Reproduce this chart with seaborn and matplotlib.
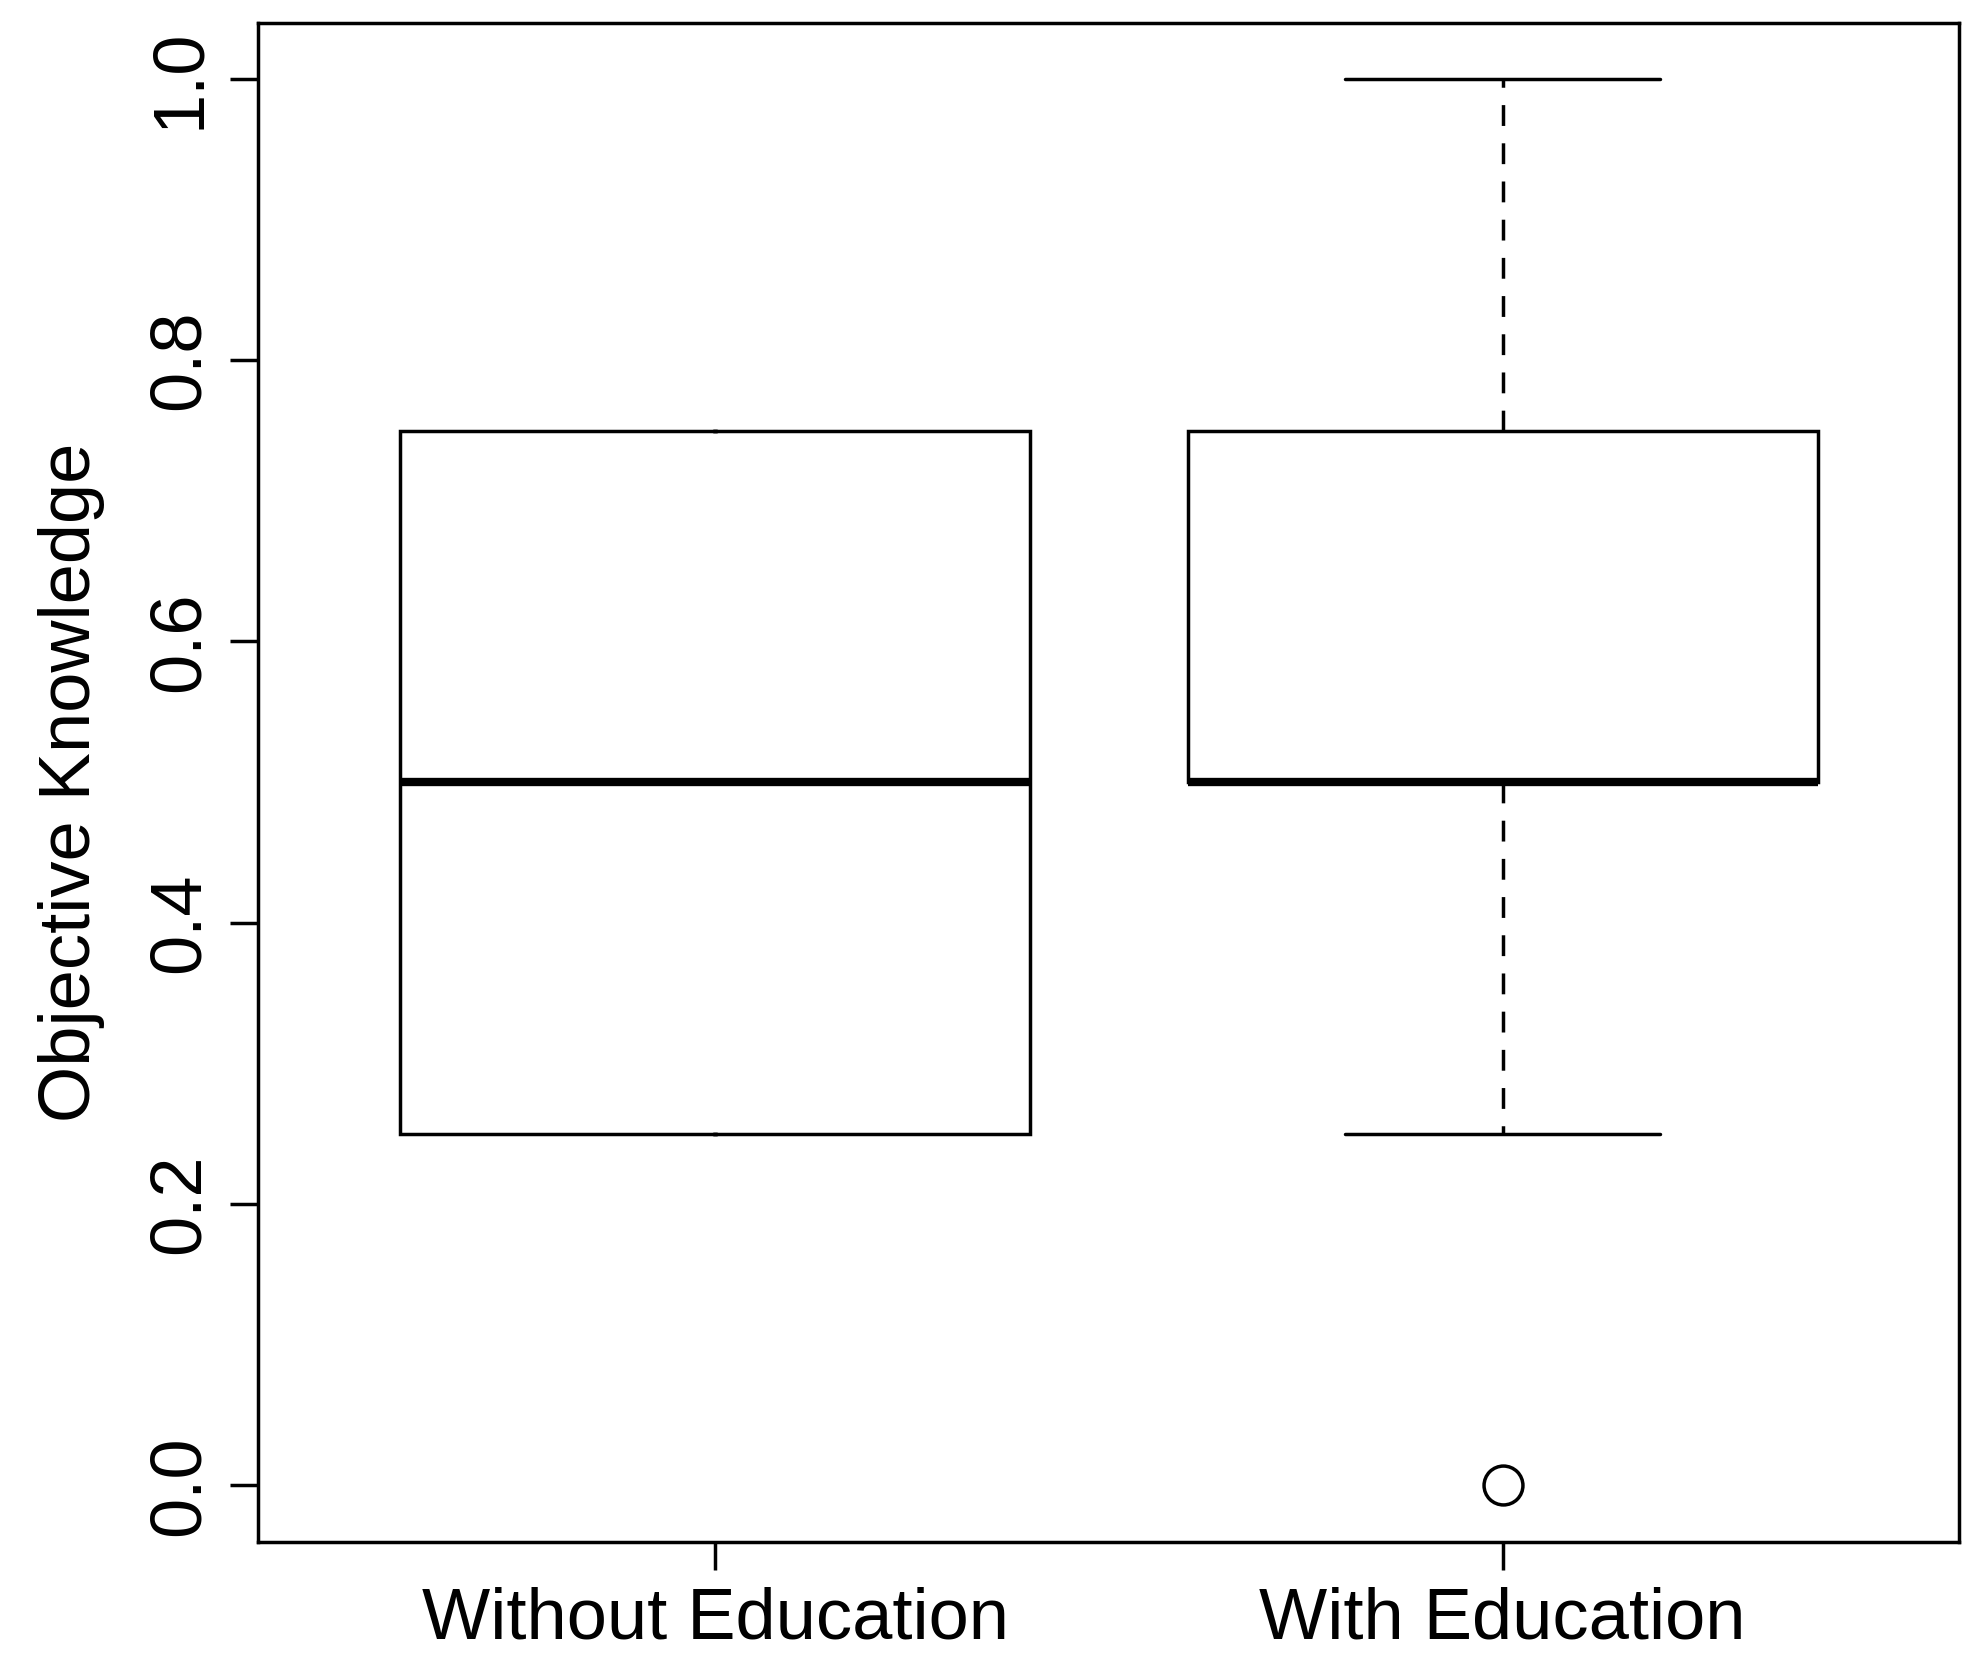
import matplotlib
matplotlib.use("Agg")
import matplotlib.pyplot as plt
import seaborn as sns
import pandas as pd

groups = ["Without Education", "With Education"]
without_vals = [0.25, 0.25, 0.25, 0.5, 0.75, 0.75, 0.75]
with_vals = [0.0, 0.25, 0.5, 0.5, 0.5, 0.5, 0.75, 0.75, 0.75, 1.0]
yticks = [0.0, 0.2, 0.4, 0.6, 0.8, 1.0]

df = pd.DataFrame({
    "group": [groups[0]] * len(without_vals) + [groups[1]] * len(with_vals),
    "value": without_vals + with_vals,
})

sns.set_style("white")
plt.rcParams["font.family"] = ["Liberation Sans", "DejaVu Sans"]
plt.rcParams["text.color"] = "black"
plt.rcParams["axes.labelcolor"] = "black"
plt.rcParams["xtick.color"] = "black"
plt.rcParams["ytick.color"] = "black"

fig = plt.figure(figsize=(19.72, 16.68), dpi=100)
ax = fig.add_axes([0.131, 0.0758, 0.8626, 0.9106])
sns.boxplot(data=df, x="group", y="value", order=groups, ax=ax, width=0.8,
            color="white", linecolor="black", linewidth=2.5,
            whis=1.5,
            boxprops=dict(facecolor="white", edgecolor="black", linewidth=2.5),
            whiskerprops=dict(linestyle=(0, (6, 5)), linewidth=2.5, color="black"),
            capprops=dict(linewidth=2.5, color="black"),
            medianprops=dict(linewidth=6, color="black"),
            flierprops=dict(marker="o", markersize=28, markerfacecolor="none",
                            markeredgecolor="black", markeredgewidth=2.5))
# make caps half the box width (the without-education group has zero-length whiskers)
for i, line in enumerate(ax.lines):
    xd = line.get_xdata()
    yd = line.get_ydata()
    if len(xd) == 2 and len(yd) == 2 and yd[0] == yd[1] and line.get_linewidth() == 2.5:
        c = (xd[0] + xd[1]) / 2
        half = abs(xd[1] - xd[0]) / 2
        if half < 0.39:
            if c < 0.5:
                line.set_xdata([c - 0.003, c + 0.003])
            else:
                line.set_xdata([c - 0.2, c + 0.2])

ax.set_xlim(-0.58, 1.58)
ax.set_ylim(-0.04, 1.04)
ax.set_yticks(yticks)
ax.set_yticklabels([f"{t:.1f}" for t in yticks], rotation=90, va="center")
ax.set_xlabel("")
ax.set_ylabel("Objective Knowledge", fontsize=52, labelpad=30)
ax.tick_params(axis="both", labelsize=52, length=20, width=2.5, direction="out",
               left=True, bottom=True, pad=12, colors="black")
for s in ax.spines.values():
    s.set_linewidth(2.5)
    s.set_color("black")
fig.savefig("out.png", dpi=100, facecolor="white")
